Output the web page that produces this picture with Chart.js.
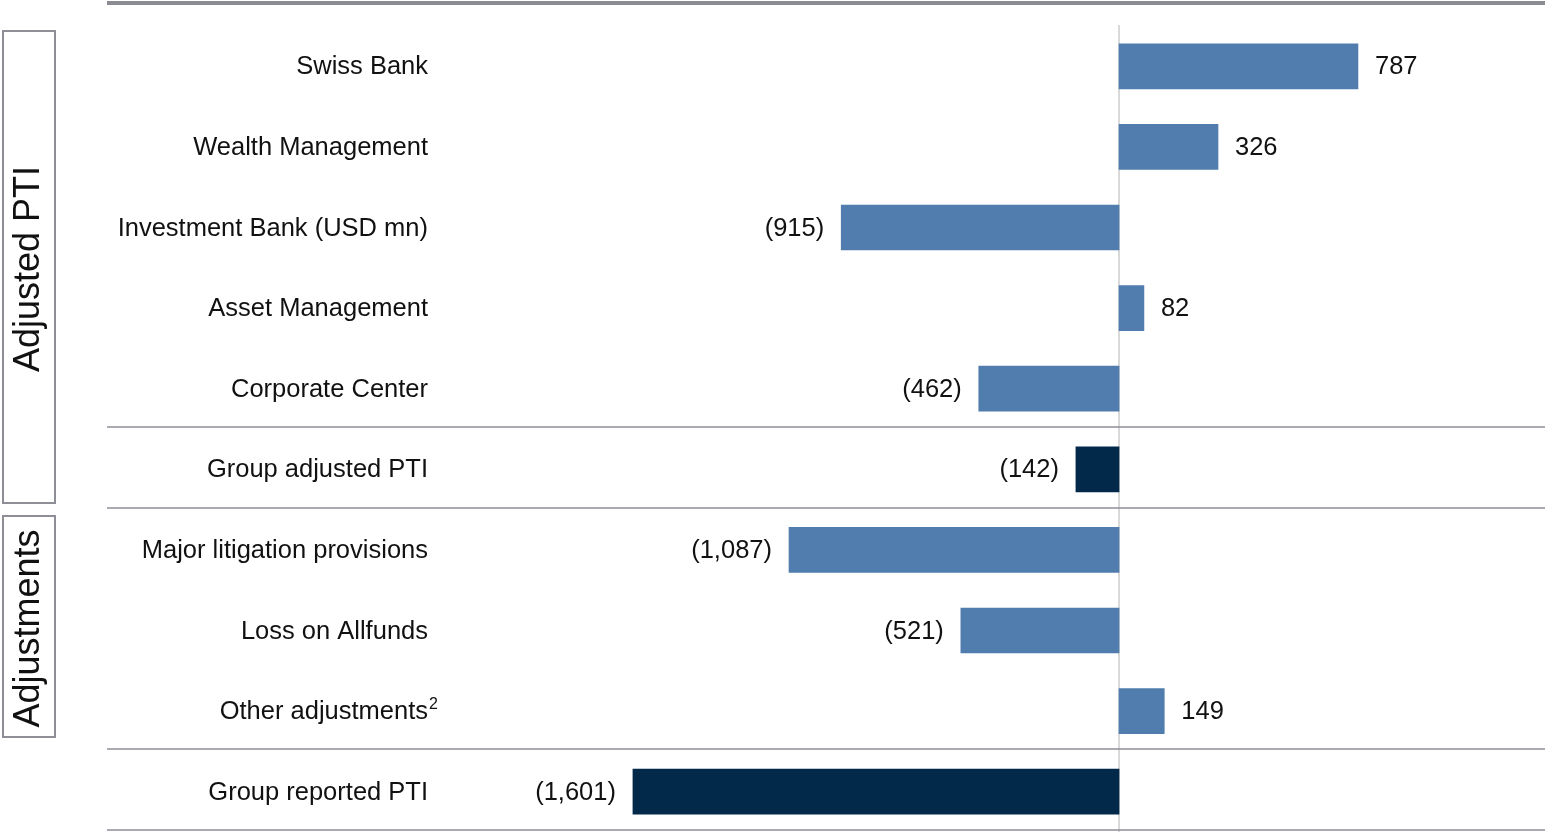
<!DOCTYPE html>
<html>
<head>
<meta charset="utf-8">
<title>PTI by business division</title>
<script src="https://cdn.jsdelivr.net/npm/chart.js@4.4.1/dist/chart.umd.min.js"></script>
<style>
  body { margin: 0; background: #fff; }
  #wrap { width: 1545px; height: 832px; position: relative; }
</style>
</head>
<body>
<div id="wrap"><canvas id="mycanvas"></canvas></div>
<script>
// chart data
var categories = [
  "Swiss Bank",
  "Wealth Management",
  "Investment Bank (USD mn)",
  "Asset Management",
  "Corporate Center",
  "Group adjusted PTI",
  "Major litigation provisions",
  "Loss on Allfunds",
  "Other adjustments\u00b2",
  "Group reported PTI"
];
var values = [787, 326, -915, 82, -462, -142, -1087, -521, 149, -1601];
var isTotal = [false, false, false, false, false, true, false, false, false, true];

// bracket groups on the left: [label, first index, last index]
var groupNames = ["Adjusted PTI", "Adjustments"];
var groupFrom = [0, 6];
var groupTo = [5, 8];

// separator lines drawn below these rows
var lineAfter = [4, 5, 8, 9];

var FONT = "'Liberation Sans', Arial, Helvetica, sans-serif";
var BLUE = "#507DAE";
var NAVY = "#02284A";
var GREY = "#8E8E96";

function fmt(v) {
  var s = Math.abs(v).toLocaleString("en-US");
  return v < 0 ? "(" + s + ")" : s;
}

var decorations = {
  id: "decorations",
  beforeDatasetsDraw: function(chart) {
    var ctx = chart.ctx;
    var y = chart.scales.y, x = chart.scales.x;
    var step = y.getPixelForValue(1) - y.getPixelForValue(0);
    var zero = x.getPixelForValue(0);

    ctx.save();
    // zero line
    ctx.strokeStyle = "#D9D9D9";
    ctx.lineWidth = 2;
    ctx.beginPath();
    ctx.moveTo(zero, 25);
    ctx.lineTo(zero, 832);
    ctx.stroke();

    // top rule
    ctx.fillStyle = "#8B8B93";
    ctx.fillRect(107, 1, 1438, 4);

    // separators
    ctx.strokeStyle = GREY;
    ctx.lineWidth = 1.5;
    lineAfter.forEach(function(i) {
      var py = Math.round(y.getPixelForValue(i) + step / 2) - 2;
      ctx.beginPath();
      ctx.moveTo(107, py);
      ctx.lineTo(1545, py);
      ctx.stroke();
    });

    // group boxes with rotated text
    ctx.lineWidth = 2;
    var tops = [31, 516], bots = [503, 737];
    for (var g = 0; g < groupNames.length; g++) {
      var top = tops[g], bot = bots[g];
      ctx.strokeStyle = GREY;
      ctx.strokeRect(3, top, 52, bot - top);
      ctx.save();
      ctx.translate(29, (top + bot) / 2 + 2);
      ctx.rotate(-Math.PI / 2);
      ctx.fillStyle = "#111";
      ctx.font = "36px " + FONT;
      ctx.textAlign = "center";
      ctx.textBaseline = "middle";
      ctx.fillText(groupNames[g], 0, 0);
      ctx.restore();
    }

    // category labels
    ctx.fillStyle = "#111";
    ctx.textBaseline = "middle";
    categories.forEach(function(lab, i) {
      var py = y.getPixelForValue(i) + 1;
      ctx.textAlign = "right";
      if (lab.slice(-1) === "\u00b2") {
        ctx.font = "25.5px " + FONT;
        ctx.fillText(lab.slice(0, -1), 428, py);
        ctx.textAlign = "left";
        ctx.font = "16px " + FONT;
        ctx.fillText("2", 429, py - 8);
      } else {
        ctx.font = "25.5px " + FONT;
        ctx.fillText(lab, 428, py);
      }
    });
    ctx.restore();
  },
  afterDatasetsDraw: function(chart) {
    var ctx = chart.ctx;
    var meta = chart.getDatasetMeta(0);
    ctx.save();
    ctx.fillStyle = "#111";
    ctx.font = "25.5px " + FONT;
    ctx.textBaseline = "middle";
    meta.data.forEach(function(bar, i) {
      var v = values[i];
      if (v >= 0) {
        ctx.textAlign = "left";
        ctx.fillText(fmt(v), bar.x + 17, bar.y + 1);
      } else {
        ctx.textAlign = "right";
        ctx.fillText(fmt(v), bar.x - 17, bar.y + 1);
      }
    });
    ctx.restore();
  }
};

var chartdata = {
  labels: categories,
  datasets: [
    {
      label: "PTI",
      data: values,
      backgroundColor: isTotal.map(function(t) { return t ? NAVY : BLUE; }),
      borderWidth: 0,
      barThickness: 45
    }
  ]
};

var ctx = document.getElementById("mycanvas");
var LineGraph = new Chart(ctx, {
  type: "bar",
  data: chartdata,
  plugins: [decorations],
  options: {
    indexAxis: "y",
    responsive: true,
    maintainAspectRatio: false,
    animation: false,
    layout: { padding: { left: 445, top: 26, right: 0, bottom: 0 } },
    plugins: { legend: { display: false }, tooltip: { enabled: false } },
    scales: {
      x: { display: false, min: -2220, max: 1403 },
      y: { display: false }
    }
  }
});
</script>
</body>
</html>
